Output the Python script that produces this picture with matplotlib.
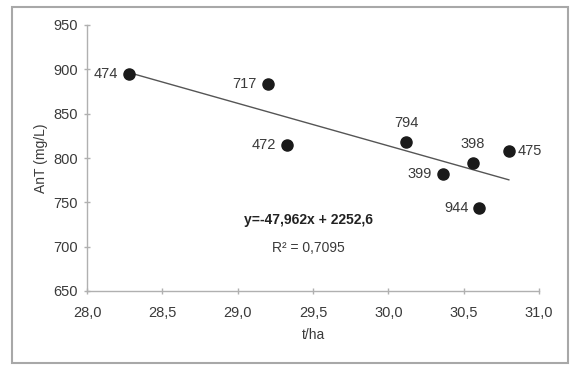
import matplotlib
matplotlib.use("Agg")
import matplotlib.pyplot as plt
from matplotlib.patches import Rectangle
import numpy as np

plt.rcParams['font.family'] = ['Liberation Sans', 'DejaVu Sans']

# Data
labels = ["474", "717", "472", "794", "398", "399", "475", "944"]
yield_tha = [28.28, 29.20, 29.33, 30.12, 30.56, 30.36, 30.80, 30.60]
ant_mgL = [895, 884, 815, 818, 794, 782, 808, 744]
slope = -47.962
intercept = 2252.6
eq_text = "y=-47,962x + 2252,6"
r2_text = "R² = 0,7095"
xticks = [28.0, 28.5, 29.0, 29.5, 30.0, 30.5, 31.0]
yticks = [650, 700, 750, 800, 850, 900, 950]

# label offsets (points) and alignment
offsets = {
    "474": (-8, 0, 'right', 'center'),
    "717": (-8, 0, 'right', 'center'),
    "472": (-8, 0, 'right', 'center'),
    "794": (0, 9, 'center', 'bottom'),
    "398": (0, 9, 'center', 'bottom'),
    "399": (-8, 0, 'right', 'center'),
    "475": (6, 0, 'left', 'center'),
    "944": (-7, 0, 'right', 'center'),
}

fig = plt.figure(figsize=(5.78, 3.74), dpi=100)
ax = fig.add_axes([87/578, 1-291/374, (539-87)/578, (291-25)/374])

# Outer frame
fig.patches.append(Rectangle((12/578, 1-363/374), (568-12)/578, (363-7)/374,
                             transform=fig.transFigure, fill=False,
                             edgecolor='#a8a8a8', linewidth=1.5))

# Trend line
xs = np.array([min(yield_tha), max(yield_tha)])
ax.plot(xs, slope*xs + intercept, color='#555555', linewidth=1.0, zorder=2)

# Points
ax.plot(yield_tha, ant_mgL, 'o', color='#1a1a1a', markersize=8, zorder=3)

for lab, x, y in zip(labels, yield_tha, ant_mgL):
    dx, dy, ha, va = offsets[lab]
    ax.annotate(lab, (x, y), xytext=(dx, dy), textcoords='offset points',
                ha=ha, va=va, fontsize=10.5, color='#3a3a3a')

ax.text(29.47, 730, eq_text, ha='center', va='center', fontsize=10,
        fontweight='bold', color='#222222')
ax.text(29.47, 699, r2_text, ha='center', va='center', fontsize=10,
        color='#3a3a3a')

ax.set_xlim(28.0, 31.0)
ax.set_ylim(650, 950)
ax.set_xticks(xticks)
ax.set_yticks(yticks)
ax.set_xticklabels([f"{t:.1f}".replace('.', ',') for t in xticks])
ax.set_yticklabels([str(t) for t in yticks])

for s in ['top', 'right']:
    ax.spines[s].set_visible(False)
for s in ['left', 'bottom']:
    ax.spines[s].set_color('#b0b0b0')
    ax.spines[s].set_linewidth(1.0)
ax.tick_params(axis='both', direction='inout', length=5, width=1,
               color='#b0b0b0', labelsize=10.5, labelcolor='#3a3a3a')
ax.tick_params(axis='x', pad=8)
ax.tick_params(axis='y', pad=4)

ax.set_xlabel("t/ha", fontsize=10, color='#3a3a3a', labelpad=6)
ax.set_ylabel("AnT (mg/L)", fontsize=10, color='#3a3a3a', labelpad=4)

fig.savefig("out.png", dpi=100)
